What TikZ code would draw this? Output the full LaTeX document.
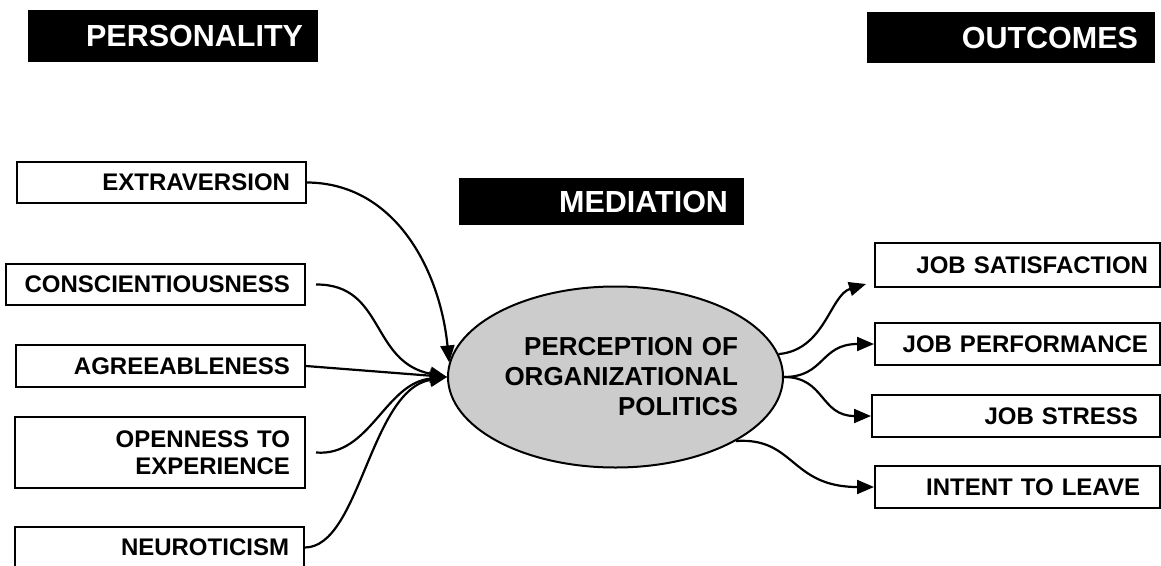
\documentclass[tikz,border=0pt]{standalone}
\usepackage{fontspec}
\setmainfont{Liberation Sans}
\usetikzlibrary{arrows.meta,shapes.geometric}
\begin{document}
\begin{tikzpicture}[x=1pt,y=-1pt,
  hdr/.style={fill=black, text=white, font=\fontsize{30.5}{34}\selectfont\bfseries, align=right, inner ysep=0pt},
  lbox/.style={draw, line width=2pt, font=\fontsize{24}{27}\selectfont\bfseries, align=right, inner ysep=0pt},
  conn/.style={line width=2.2pt, -{Triangle[length=17pt,width=14pt]}}
]
\useasboundingbox (0,0) rectangle (1161,565);

% headers
\node[hdr, minimum height=52pt, text width=260pt, inner xsep=15pt] (hp) at (173,36) {PERSONALITY};
\node[hdr, minimum height=51pt, text width=254pt, inner xsep=17pt] (ho) at (1011,37.5) {OUTCOMES};
\node[hdr, minimum height=47pt, text width=253pt, inner xsep=16pt] (hm) at (601.5,201.5) {MEDIATION};

% personality boxes
\node[lbox, minimum height=41pt, text width=257pt, inner xsep=16pt] (EXT) at (161.5,182.5) {EXTRAVERSION};
\node[lbox, minimum height=41pt, text width=269pt, inner xsep=15pt] (CON) at (155.5,284.5) {CONSCIENTIOUSNESS};
\node[lbox, minimum height=42pt, text width=259pt, inner xsep=15pt] (AGR) at (160.5,366) {AGREEABLENESS};
\node[lbox, minimum height=71pt, text width=260pt, inner xsep=15pt] (OPE) at (160,452.5) {OPENNESS TO\\EXPERIENCE};
\node[lbox, minimum height=41pt, text width=259pt, inner xsep=15pt] (NEU) at (159.5,547.5) {NEUROTICISM};

% mediator
\node[ellipse, draw, line width=2pt, fill=black!20, minimum width=335pt, minimum height=181pt,
      inner xsep=-6pt, inner ysep=0pt,
      text width=245pt, align=right, font=\fontsize{26}{30}\selectfont\bfseries] (E) at (615.5,377)
      {PERCEPTION OF\\ORGANIZATIONAL\\POLITICS};

% outcome boxes
\node[lbox, minimum height=44pt, text width=261pt, inner xsep=12pt] (JS) at (1017.5,265) {JOB SATISFACTION};
\node[lbox, minimum height=42pt, text width=261pt, inner xsep=12pt] (JP) at (1017.5,344) {JOB PERFORMANCE};
\node[lbox, minimum height=42pt, text width=244pt, inner xsep=22pt] (JST) at (1016,416) {JOB STRESS};
\node[lbox, minimum height=42pt, text width=245pt, inner xsep=20pt] (IL) at (1017.5,487) {INTENT TO LEAVE};

\coordinate (jsin) at (866,284);

% left connectors
\draw[conn] (EXT.east) .. controls (395,183) and (440,270) .. (E.175);
\draw[conn] ([xshift=10pt]CON.east) .. controls (385,284) and (370,362) .. (E.west);
\draw[conn] (AGR.east) -- (E.west);
\draw[conn] ([xshift=10pt]OPE.east) .. controls (370,457) and (385,383) .. (E.west);
\draw[conn] (NEU.east) .. controls (360,547) and (370,390) .. (E.west);

% right connectors
\draw[conn] (E.8) .. controls (825,350) and (830,295) .. (jsin);
\draw[conn] (E.east) .. controls (825,377) and (820,344) .. (JP.west);
\draw[conn] (E.east) .. controls (825,377) and (820,416) .. (JST.west);
\draw[conn] (E.-28) .. controls (795,437) and (790,487) .. (IL.west);
\end{tikzpicture}
\end{document}
